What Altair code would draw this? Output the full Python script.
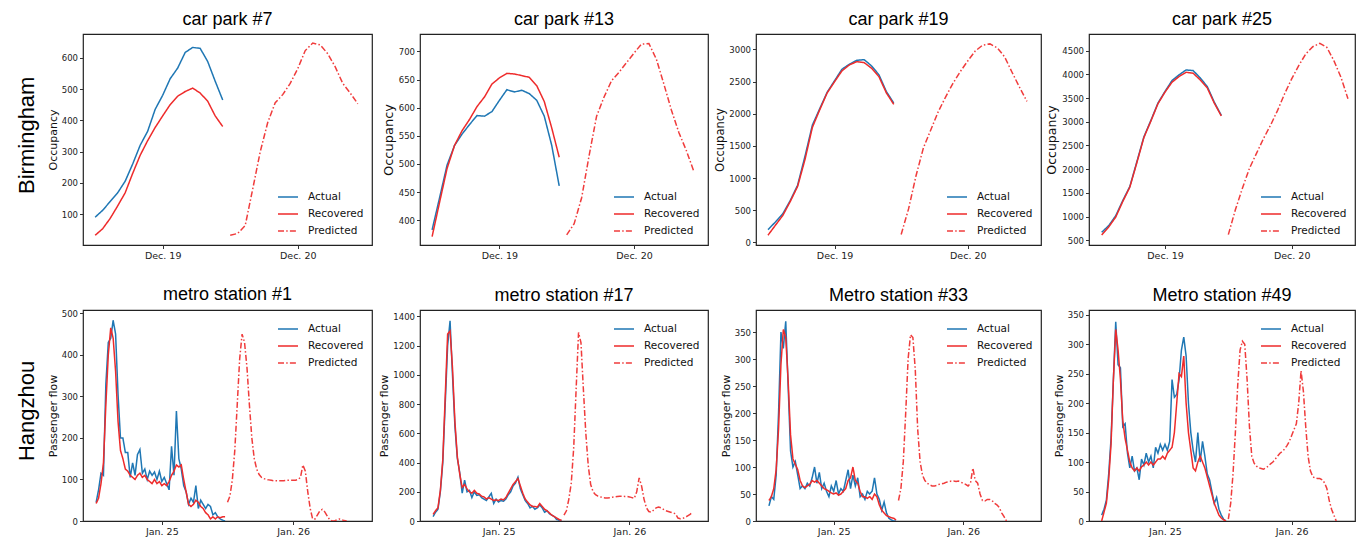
import altair as alt
import pandas as pd

SERIES = ["Actual", "Recovered", "Predicted"]
COLORS = ["#1f77b4", "#ee2b2b", "#f03c3c"]
DASHES = [[1, 0], [1, 0], [6, 2.2, 1.5, 2.2]]

car_days = ["Dec. 19", "Dec. 20"]
metro_days = ["Jan. 25", "Jan. 26"]
car_slots = 18      # half-hourly readings per day
metro_slots = 54    # readings per day (metro)

# ---------------- Birmingham car parks ----------------
cp7_actual = [90, 112, 140, 168, 205, 260, 320, 365, 435, 480, 533, 567, 617, 633, 630, 588, 525, 465]
cp7_recovered = [32, 53, 86, 126, 168, 230, 288, 335, 377, 414, 450, 477, 492, 503, 487, 461, 414, 380]
cp7_predicted = [32, 38, 63, 180, 299, 393, 456, 482, 518, 565, 623, 647, 641, 613, 571, 518, 487, 453]

cp13_actual = [383, 440, 498, 533, 553, 570, 586, 585, 593, 613, 632, 628, 631, 625, 613, 585, 533, 461]
cp13_recovered = [371, 432, 492, 533, 559, 579, 602, 619, 642, 653, 661, 660, 657, 654, 639, 611, 564, 512]
cp13_predicted = [374, 394, 440, 515, 585, 619, 648, 663, 680, 697, 713, 714, 686, 642, 596, 556, 524, 487]

cp19_actual = [199, 317, 445, 649, 889, 1339, 1824, 2080, 2335, 2514, 2693, 2770, 2831, 2841, 2744, 2606, 2345, 2167]
cp19_recovered = [112, 266, 419, 634, 869, 1288, 1789, 2064, 2325, 2499, 2667, 2759, 2810, 2795, 2708, 2575, 2325, 2146]
cp19_predicted = [123, 521, 1032, 1467, 1748, 2029, 2259, 2473, 2657, 2821, 2974, 3066, 3086, 3025, 2882, 2642, 2412, 2192]

cp25_actual = [668, 808, 1017, 1339, 1633, 2157, 2682, 3031, 3395, 3640, 3871, 3990, 4094, 4080, 3927, 3745, 3416, 3136]
cp25_recovered = [612, 780, 990, 1318, 1619, 2136, 2668, 3017, 3381, 3626, 3836, 3955, 4045, 4024, 3885, 3717, 3395, 3122]
cp25_predicted = [619, 1143, 1598, 2017, 2332, 2647, 2927, 3241, 3591, 3906, 4185, 4430, 4584, 4654, 4570, 4290, 3941, 3486]

# ---------------- Hangzhou metro stations ----------------
m1_actual = [45, 75, 115, 110, 330, 430, 440, 483, 450, 305, 200, 200, 165, 165, 105, 140, 110, 160,
             172, 115, 125, 100, 120, 110, 118, 100, 120, 95, 105, 90, 75, 180, 110, 265, 150, 125,
             85, 70, 40, 55, 45, 85, 30, 50, 40, 30, 40, 35, 15, 20, 10, 5, 2, 0]
m1_recovered = [42, 55, 90, 140, 280, 400, 465, 440, 360, 240, 170, 150, 125, 120, 110, 105, 100, 110,
                115, 105, 110, 100, 95, 90, 100, 90, 95, 85, 90, 85, 95, 110, 120, 135, 130, 135,
                100, 70, 40, 35, 40, 50, 45, 35, 30, 20, 15, 5, 10, 5, 10, 8, 10, 10]
m1_predicted = [45, 60, 100, 170, 280, 390, 450, 430, 370, 280, 200, 150, 125, 112, 105, 102, 100, 99,
                98, 97, 97, 97, 97, 97, 98, 98, 98, 98, 98, 100, 105, 135, 120, 70, 30, 5,
                5, 15, 25, 28, 22, 12, 3, 0, 0, 3, 5, 3, 1, 0]

m17_actual = [30, 60, 80, 200, 400, 800, 1200, 1370, 1000, 650, 430, 330, 190, 280, 200, 210, 160, 200,
              175, 180, 160, 150, 140, 165, 190, 120, 150, 130, 140, 135, 150, 180, 200, 240, 260, 300,
              220, 180, 140, 120, 90, 100, 80, 90, 110, 90, 60, 70, 50, 40, 30, 10, 5, 0]
m17_recovered = [45, 70, 90, 210, 420, 850, 1280, 1300, 1050, 680, 440, 320, 230, 250, 220, 200, 190, 210,
                 190, 185, 170, 165, 150, 160, 150, 140, 145, 140, 150, 145, 160, 190, 220, 250, 270, 290,
                 240, 190, 150, 130, 110, 100, 100, 95, 120, 100, 80, 70, 55, 40, 30, 20, 10, 5]
m17_predicted = [40, 70, 150, 260, 500, 900, 1290, 1220, 900, 600, 380, 250, 200, 180, 170, 165, 160, 158,
                 158, 160, 163, 165, 168, 170, 170, 168, 168, 165, 160, 155, 200, 295, 240, 150, 90, 65,
                 60, 75, 90, 95, 90, 80, 70, 65, 60, 55, 50, 20, 15, 18, 25, 35, 45, 60]

m33_actual = [28, 45, 40, 85, 200, 350, 320, 370, 250, 130, 100, 110, 85, 60, 65, 60, 70, 65,
              80, 100, 70, 90, 60, 70, 55, 45, 65, 55, 75, 50, 60, 55, 75, 95, 60, 85,
              65, 80, 45, 50, 40, 55, 50, 55, 80, 50, 40, 20, 35, 15, 5, 2, 0, 0]
m33_recovered = [38, 45, 60, 95, 170, 290, 355, 340, 260, 160, 115, 105, 95, 75, 65, 62, 65, 68,
                 75, 72, 75, 70, 65, 60, 58, 55, 52, 50, 52, 48, 50, 55, 60, 75, 80, 100,
                 75, 70, 55, 45, 45, 42, 45, 40, 50, 45, 30, 20, 15, 10, 8, 6, 5, 2]
m33_predicted = [38, 60, 110, 200, 300, 345, 340, 280, 170, 110, 85, 75, 70, 67, 65, 65, 66, 68,
                 69, 70, 72, 73, 74, 74, 73, 74, 72, 70, 68, 65, 70, 98, 75, 70, 50, 38,
                 37, 40, 40, 38, 33, 30, 25, 15, 8, 0]

m49_actual = [10, 20, 35, 80, 140, 240, 338, 265, 260, 160, 165, 115, 90, 110, 85, 90, 70, 105,
              95, 115, 100, 110, 90, 125, 115, 130, 120, 130, 120, 135, 240, 210, 215, 240, 290, 312,
              280, 200, 150, 120, 100, 150, 100, 135, 110, 80, 70, 50, 30, 40, 20, 10, 3, 0]
m49_recovered = [0, 15, 30, 70, 130, 240, 325, 290, 240, 170, 140, 120, 100, 90, 85, 90, 85, 92,
                 95, 100, 95, 100, 95, 100, 105, 105, 110, 105, 115, 120, 125, 150, 200, 250, 245, 280,
                 200, 150, 120, 90, 85, 100, 110, 100, 90, 75, 60, 45, 30, 20, 10, 5, 2, 0]
m49_predicted = [3, 30, 80, 150, 230, 290, 305, 300, 240, 160, 110, 98, 93, 90, 89, 88, 90, 93,
                 97, 100, 105, 110, 115, 118, 122, 128, 135, 145, 155, 165, 200, 255, 220, 160, 110, 85,
                 75, 73, 72, 72, 70, 65, 55, 35, 20, 10, 0]

PANEL_H = 211


def panel(title, actual, recovered, predicted, slots, days, ylabel, yticks, ydom, xdom,
          width, legend_orient, ytitle_size):
    recs = []
    for name, vals, start in (("Actual", actual, 0), ("Recovered", recovered, 0),
                              ("Predicted", predicted, slots)):
        for i, v in enumerate(vals):
            recs.append({"t": -0.5 + (start + i) / slots, "v": v, "series": name})
    df = pd.DataFrame(recs)
    label_expr = "[" + ",".join("'%s'" % d for d in days) + "][datum.value]"
    x = alt.X("t:Q", scale=alt.Scale(domain=xdom, nice=False, zero=False),
              axis=alt.Axis(values=[0, 1], labelExpr=label_expr, title=None,
                            labelFontSize=9.5, labelPadding=1.5, labelFlush=False))
    y = alt.Y("v:Q", scale=alt.Scale(domain=ydom, nice=False, zero=False),
              axis=alt.Axis(values=yticks, title=ylabel, titleFontSize=ytitle_size,
                            labelFontSize=8.5, titlePadding=3, labelPadding=2,
                            labelFlush=False, format="d"))
    leg = alt.Legend(title=None, orient=legend_orient, offset=8, symbolType="stroke",
                     symbolSize=400, symbolStrokeWidth=1.6, labelFont="DejaVu Sans",
                     labelFontSize=10.5, labelOffset=9, rowPadding=-11, padding=0,
                     labelColor="#111")
    color = alt.Color("series:N", scale=alt.Scale(domain=SERIES, range=COLORS), legend=leg)
    dash = alt.StrokeDash("series:N", scale=alt.Scale(domain=SERIES, range=DASHES), legend=leg)
    base = alt.Chart(df).mark_line(strokeWidth=1.5, clip=True).encode(
        x=x, y=y, color=color, strokeDash=dash)
    layers = [base.transform_filter(alt.datum.series == s) for s in SERIES]
    return alt.layer(*layers).properties(width=width, height=PANEL_H, title=title)


car_x = [-0.59, 1.55]
metro_x = [-0.6, 1.6]
last_x = [-0.6, 1.5]
widths = [289, 288, 285, 266]

row1 = [
    panel("car park #7", cp7_actual, cp7_recovered, cp7_predicted, car_slots, car_days,
          "Occupancy", [100, 200, 300, 400, 500, 600], [1, 676], car_x, widths[0], "bottom-right", 11),
    panel("car park #13", cp13_actual, cp13_recovered, cp13_predicted, car_slots, car_days,
          "Occupancy", [400, 450, 500, 550, 600, 650, 700], [356, 731], car_x, widths[1], "bottom-right", 13),
    panel("car park #19", cp19_actual, cp19_recovered, cp19_predicted, car_slots, car_days,
          "Occupancy", [0, 500, 1000, 1500, 2000, 2500, 3000], [-40, 3240], car_x, widths[2], "bottom-right", 11.5),
    panel("car park #25", cp25_actual, cp25_recovered, cp25_predicted, car_slots, car_days,
          "Occupancy", [500, 1000, 1500, 2000, 2500, 3000, 3500, 4000, 4500], [400, 4852], last_x, widths[3], "bottom-right", 12.5),
]
row2 = [
    panel("metro station #1", m1_actual, m1_recovered, m1_predicted, metro_slots, metro_days,
          "Passenger flow", [0, 100, 200, 300, 400, 500], [0, 508], metro_x, widths[0], "top-right", 11),
    panel("metro station #17", m17_actual, m17_recovered, m17_predicted, metro_slots, metro_days,
          "Passenger flow", [0, 200, 400, 600, 800, 1000, 1200, 1400], [0, 1444], metro_x, widths[1], "top-right", 11),
    panel("Metro station #33", m33_actual, m33_recovered, m33_predicted, metro_slots, metro_days,
          "Passenger flow", [0, 50, 100, 150, 200, 250, 300, 350], [0, 391], metro_x, widths[2], "top-right", 11),
    panel("Metro station #49", m49_actual, m49_recovered, m49_predicted, metro_slots, metro_days,
          "Passenger flow", [0, 50, 100, 150, 200, 250, 300, 350], [0, 358], last_x, widths[3], "top-right", 11),
]


def row(panels, label):
    return alt.hconcat(
        *panels, spacing=48, bounds="flush",
        title=alt.TitleParams(label, orient="left", anchor="middle", fontSize=22,
                              font="Liberation Sans", fontWeight="normal", offset=8,
                              color="black"),
    ).resolve_scale(color="independent", strokeDash="independent").resolve_legend(
        color="independent", strokeDash="independent")


chart = alt.vconcat(
    row(row1, "Birmingham"), row(row2, "Hangzhou"), spacing=24
).resolve_scale(color="independent", strokeDash="independent").resolve_legend(
    color="independent", strokeDash="independent"
).properties(
    padding={"left": 7, "top": 2, "right": 0, "bottom": 0}, background="white"
).configure_view(
    stroke="#222", strokeWidth=1.2
).configure_axis(
    domain=False, grid=False, tickColor="#333", tickSize=3.5, labelColor="#222",
    labelFont="DejaVu Sans", titleFont="DejaVu Sans", titleFontWeight="normal",
    titleColor="#111"
).configure_title(
    font="Liberation Sans", fontSize=18, fontWeight="normal", color="black",
    offset=5, anchor="middle"
)

chart.save("out.html", embed_options={"renderer": "svg", "actions": False})
